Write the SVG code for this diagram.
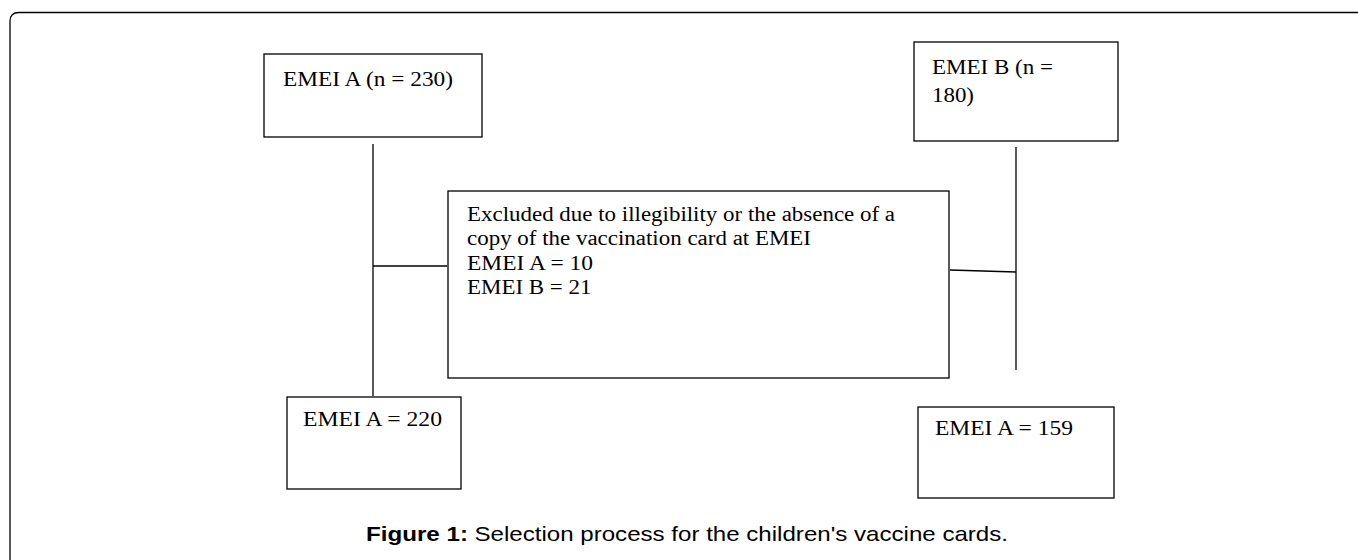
<svg xmlns="http://www.w3.org/2000/svg" width="1358" height="560" viewBox="0 0 1358 560">
<style>
.box{fill:#fff;stroke:#000;stroke-width:1.3}
.t{font-family:"Liberation Serif","Times New Roman",serif;font-size:20px;fill:#000}
.ln{stroke:#000;stroke-width:1.3;fill:none}
.cap{font-family:"Liberation Sans",Arial,sans-serif;font-size:21px;fill:#000}
</style>
<rect width="1358" height="560" fill="#fff"/>
<path class="ln" d="M10,560 V21 Q10,12.5 19,12.5 H1358"/>
<g id="connectors">
<line class="ln" x1="373" y1="144" x2="373" y2="396"/>
<line class="ln" x1="373" y1="266" x2="447" y2="266"/>
<line class="ln" x1="1016" y1="147" x2="1016" y2="370"/>
<line class="ln" x1="950" y1="270" x2="1016" y2="272"/>
</g>
<g id="emeiA">
<rect class="box" x="264" y="54" width="218" height="83"/>
<text class="t" x="283" y="86" textLength="170" lengthAdjust="spacingAndGlyphs">EMEI A (n = 230)</text>
</g>
<g id="emeiB">
<rect class="box" x="914" y="42" width="204" height="99"/>
<text class="t" x="932" y="74" textLength="121" lengthAdjust="spacingAndGlyphs">EMEI B (n =</text>
<text class="t" x="932" y="102" textLength="42" lengthAdjust="spacingAndGlyphs">180)</text>
</g>
<g id="excluded">
<rect class="box" x="448" y="191" width="501" height="187"/>
<text class="t" x="467" y="220.5" textLength="428" lengthAdjust="spacingAndGlyphs">Excluded due to illegibility or the absence of a</text>
<text class="t" x="467" y="245" textLength="344" lengthAdjust="spacingAndGlyphs">copy of the vaccination card at EMEI</text>
<text class="t" x="467" y="269.5" textLength="126" lengthAdjust="spacingAndGlyphs">EMEI A = 10</text>
<text class="t" x="467" y="294" textLength="124.5" lengthAdjust="spacingAndGlyphs">EMEI B = 21</text>
</g>
<g id="emeiA220">
<rect class="box" x="287" y="397" width="174" height="92"/>
<text class="t" x="303" y="426" textLength="139" lengthAdjust="spacingAndGlyphs">EMEI A = 220</text>
</g>
<g id="emeiB159">
<rect class="box" x="918" y="407" width="196" height="91"/>
<text class="t" x="935" y="435" textLength="138" lengthAdjust="spacingAndGlyphs">EMEI A = 159</text>
</g>
<g id="caption">
<text class="cap" x="366" y="541" font-weight="bold" textLength="102" lengthAdjust="spacingAndGlyphs">Figure 1:</text>
<text class="cap" x="474.5" y="541" textLength="533.5" lengthAdjust="spacingAndGlyphs">Selection process for the children's vaccine cards.</text>
</g>
</svg>
